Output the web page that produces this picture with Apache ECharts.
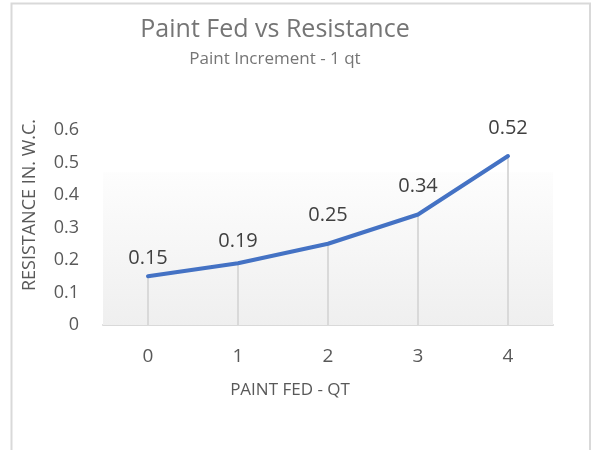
<!DOCTYPE html>
<html>
<head>
<meta charset="utf-8">
<script src="https://cdn.jsdelivr.net/npm/echarts@6/dist/echarts.min.js"></script>
<style>
  html, body { margin: 0; padding: 0; background: #fff; }
  #chart { width: 591px; height: 450px; }
</style>
</head>
<body>
<div id="chart"></div>
<script>
// paint fed (qt) on the x axis
var paintFed = ['0', '1', '2', '3', '4'];
// resistance in inches water column
var resistance = [0.15, 0.19, 0.25, 0.34, 0.52];
// y axis range
var yMin = 0;
var yMax = 0.6;
var yStep = 0.1;
// height reached by the grey plot fill
var plotFillTop = 0.47;

var myChart = echarts.init(document.getElementById('chart'));

// Excel puts "above" labels a bit higher on the steeper part
var labelDist = [7, 11, 17, 17, 17];
var lineData = resistance.map(function (v, i) {
  return { value: v, label: { distance: labelDist[i] } };
});

var font = 'Open Sans';

var option = {
  animation: false,
  textStyle: { fontFamily: font },
  title: {
    text: 'Paint Fed vs Resistance',
    subtext: 'Paint Increment - 1 qt',
    left: 270,
    textAlign: 'center',
    top: 12,
    itemGap: 9,
    textStyle: { fontFamily: font, fontSize: 25, fontWeight: 'normal', color: '#757575' },
    subtextStyle: { fontFamily: font, fontSize: 17, color: '#757575' }
  },
  graphic: [
    {
      // chart border (cut off at the bottom in the original)
      type: 'rect',
      shape: { x: 11.5, y: 3.5, width: 578.5, height: 480 },
      style: { fill: null, stroke: '#d9d9d9', lineWidth: 2 },
      silent: true
    }
  ],
  grid: { left: 103, right: 38, top: 130, bottom: 125 },
  xAxis: {
    type: 'category',
    data: paintFed,
    name: 'PAINT FED - QT',
    nameLocation: 'middle',
    nameGap: 57,
    nameTextStyle: { fontFamily: font, fontSize: 17, color: '#595959', padding: [0, 76, 0, 0] },
    axisLine: { lineStyle: { color: '#d9d9d9', width: 2 } },
    axisTick: { show: false },
    axisLabel: { fontSize: 19, color: '#595959', margin: 22 },
    splitLine: { show: false }
  },
  yAxis: {
    type: 'value',
    min: yMin,
    max: yMax,
    interval: yStep,
    name: 'RESISTANCE IN. W.C.',
    nameLocation: 'middle',
    nameGap: 64,
    nameTextStyle: { fontFamily: font, fontSize: 18, color: '#595959', padding: [0, 0, 0, 45] },
    axisLine: { show: false },
    axisTick: { show: false },
    axisLabel: { fontSize: 18, color: '#595959', margin: 24 },
    splitLine: { show: false }
  },
  series: [
    {
      // drop lines from each point down to the axis
      name: 'drop',
      type: 'bar',
      data: resistance,
      barWidth: 2,
      silent: true,
      itemStyle: { color: '#d9d9d9' },
      markArea: {
        silent: true,
        itemStyle: {
          color: {
            type: 'linear', x: 0, y: 0, x2: 0, y2: 1,
            colorStops: [
              { offset: 0, color: '#fdfdfd' },
              { offset: 1, color: '#efefef' }
            ]
          }
        },
        data: [[{ yAxis: yMin }, { yAxis: plotFillTop }]]
      },
      z: 1
    },
    {
      name: 'Resistance',
      type: 'line',
      data: lineData,
      showSymbol: true,
      symbol: 'circle',
      symbolSize: 2,
      itemStyle: { color: '#4472c4' },
      lineStyle: { color: '#4472c4', width: 4, cap: 'round', join: 'round' },
      label: {
        show: true,
        position: 'top',
        fontSize: 20,
        color: '#404040'
      },
      labelLayout: { hideOverlap: false },
      z: 3
    }
  ]
};

option && myChart.setOption(option);
</script>
</body>
</html>
